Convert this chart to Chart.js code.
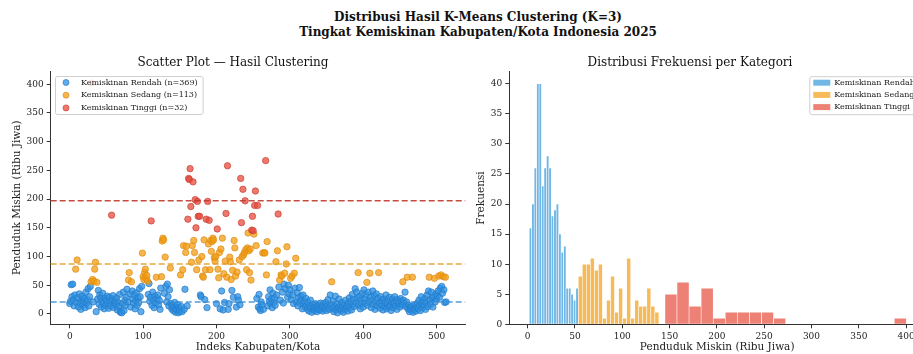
<!DOCTYPE html>
<html>
<head>
<meta charset="utf-8">
<script src="https://cdn.jsdelivr.net/npm/chart.js@4.4.0/dist/chart.umd.min.js"></script>
<style>
  html, body { margin:0; padding:0; background:#fff; overflow:hidden; width:913px; height:354px; position:relative; }
  #suptitle { position:absolute; left:0; top:10px; width:956px; text-align:center;
    font-family:"DejaVu Serif", serif; font-weight:bold; font-size:12px; line-height:15px; color:#111; }
  #kiri { position:absolute; left:0; top:0; }
  #kanan { position:absolute; left:455px; top:0; }
</style>
</head>
<body>
<div id="suptitle">Distribusi Hasil K-Means Clustering (K=3)<br>Tingkat Kemiskinan Kabupaten/Kota Indonesia 2025</div>
<canvas id="kiri" width="470" height="354"></canvas>
<canvas id="kanan" width="480" height="354"></canvas>
<script>
// data: penduduk miskin (ribu jiwa) per kabupaten/kota, urut indeks 0..513
const pendudukMiskin = [
  18,22,51,30,52,25,14,33,78,20,
  94,28,12,35,19,8,24,31,16,22,
  27,11,38,19,25,44,14,30,48,56,
  402,60,21,57,78,90,4,55,26,41,
  17,33,28,12,22,36,19,9,27,15,
  24,31,18,10,29,21,14,172,26,32,
  11,19,23,16,28,7,20,13,34,3,
  5,2,18,38,6,24,15,29,43,21,
  59,72,35,12,56,40,26,19,33,9,
  23,37,15,28,20,44,30,4,48,106,
  65,60,72,78,62,67,57,34,53,22,
  29,162,15,38,25,11,31,19,64,27,
  33,16,24,8,45,65,127,132,129,36,
  99,48,21,52,30,14,42,80,18,9,
  15,6,12,20,3,10,7,16,2,11,
  5,68,13,4,77,119,8,43,107,118,
  14,165,236,234,253,187,90,119,230,128,
  107,199,150,77,196,170,94,170,33,30,
  100,66,64,129,25,77,165,11,196,122,
  163,77,128,109,126,132,129,98,92,100,
  18,148,78,63,107,9,113,40,132,7,
  70,20,92,175,64,258,8,18,99,91,
  60,41,76,29,128,115,66,12,73,30,
  24,94,16,236,159,100,217,103,107,197,
  112,77,115,141,110,72,113,59,146,170,
  145,139,189,214,119,27,189,12,34,9,
  6,21,16,106,8,107,106,267,68,126,
  14,30,22,42,18,26,11,36,20,28,
  15,91,33,110,174,47,59,24,68,66,
  38,19,52,71,44,87,117,29,50,35,
  42,62,25,66,33,18,71,45,97,21,
  37,14,28,46,19,31,24,9,33,17,
  22,12,27,15,8,20,5,13,24,10,
  3,16,9,12,6,18,11,4,14,8,
  15,7,19,10,13,5,17,9,12,20,
  6,14,25,11,8,33,16,56,10,22,
  4,13,31,7,18,2,11,26,9,15,
  6,20,12,3,17,8,24,10,14,5,
  19,28,11,22,7,34,16,25,13,44,
  20,38,27,72,15,31,9,24,18,36,
  12,42,26,19,33,55,15,38,22,71,
  29,11,24,40,17,32,8,21,35,14,
  27,72,19,10,30,16,23,7,26,13,
  20,33,9,18,24,12,29,15,6,21,
  26,11,19,30,14,23,8,25,17,20,
  12,27,22,16,56,24,18,38,13,21,
  64,9,15,4,11,7,13,64,3,10,
  8,16,5,12,19,9,24,14,6,30,
  18,11,22,15,27,8,20,33,13,40,
  64,24,17,38,28,12,30,62,21,35,
  26,32,40,66,29,45,68,48,36,65,
  42,20,64,21
];

const kategori = ['Kemiskinan Rendah', 'Kemiskinan Sedang', 'Kemiskinan Tinggi'];
const centroid = [21, 87, 197];

// histogram (frekuensi per bin, 20 bin per kategori)
const frekRendah = [16,20,26,40,40,23,26,28,26,18,19,20,15,12,13,6,6,5,4,6];
const frekSedang = [8,10,10,11,9,10,1,4,8,2,6,1,11,1,4,3,3,6,3,2];
const frekTinggi = [5,7,3,6,1,2,2,2,2,1,0,0,0,0,0,0,0,0,0,1];
const binAwal = [1.7, 53.5, 145.1];
const binLebar = [2.59, 4.26, 12.76];

const tickXScatter = [0, 100, 200, 300, 400, 500];
const tickYScatter = [0, 50, 100, 150, 200, 250, 300, 350, 400];
const tickXHist = [0, 50, 100, 150, 200, 250, 300, 350, 400];
const tickYHist = [0, 5, 10, 15, 20, 25, 30, 35, 40];

// warna
const warnaIsi = ['rgba(45,145,225,0.75)', 'rgba(243,156,18,0.75)', 'rgba(231,76,60,0.75)'];
const warnaTepi = ['rgba(35,120,200,0.85)', 'rgba(220,140,20,0.85)', 'rgba(200,60,50,0.85)'];
const warnaGaris = ['rgba(52,140,210,0.85)', 'rgba(225,160,40,0.9)', 'rgba(192,57,43,0.9)'];
const warnaBar = ['rgba(52,152,219,0.7)', 'rgba(243,156,18,0.7)', 'rgba(231,76,60,0.7)'];

const FONT = '"DejaVu Serif", serif';
Chart.defaults.font.family = FONT;
Chart.defaults.color = '#222';

// assign tiap titik ke centroid terdekat
const kelompok = [[], [], []];
pendudukMiskin.forEach((v, i) => {
  let best = 0;
  centroid.forEach((c, k) => { if (Math.abs(v - c) < Math.abs(v - centroid[best])) best = k; });
  kelompok[best].push({x: i, y: v});
});

const garisCentroid = {
  id: 'garisCentroid',
  afterDatasetsDraw(chart) {
    const {ctx, chartArea: a, scales: {y}} = chart;
    ctx.save();
    ctx.lineWidth = 1.5;
    ctx.setLineDash([6, 3]);
    centroid.forEach((c, i) => {
      const py = y.getPixelForValue(c);
      ctx.strokeStyle = warnaGaris[i];
      ctx.beginPath();
      ctx.moveTo(a.left, py);
      ctx.lineTo(a.right, py);
      ctx.stroke();
    });
    ctx.restore();
  }
};

const kotakLegenda = {
  id: 'kotakLegenda',
  afterDatasetsDraw(chart, args, o) {
    const {ctx, chartArea: a} = chart;
    const ds = chart.data.datasets;
    ctx.save();
    ctx.font = '8px ' + FONT;
    const tw = Math.max(...ds.map(d => ctx.measureText(d.label).width));
    const w = o.textX + tw + 5;
    const x0 = o.align === 'right' ? a.right - o.margin - w : a.left + o.margin;
    const y0 = a.top + o.top;
    ctx.fillStyle = 'rgba(255,255,255,0.85)';
    ctx.strokeStyle = '#cfcfcf';
    ctx.lineWidth = 1;
    ctx.beginPath();
    ctx.roundRect(x0 + 0.5, y0 + 0.5, w, o.h, 2);
    ctx.fill();
    ctx.stroke();
    ds.forEach((d, i) => {
      const yy = y0 + o.first + i * o.row;
      if (o.marker === 'circle') {
        ctx.beginPath();
        ctx.arc(x0 + 11, yy, 3, 0, Math.PI * 2);
        ctx.fillStyle = d.backgroundColor;
        ctx.fill();
        ctx.strokeStyle = d.borderColor;
        ctx.lineWidth = 0.8;
        ctx.stroke();
      } else {
        ctx.fillStyle = d.backgroundColor;
        ctx.fillRect(x0 + 4, yy - 3, 17, 6);
      }
      ctx.fillStyle = '#222';
      ctx.textBaseline = 'middle';
      ctx.fillText(d.label, x0 + o.textX, yy);
    });
    ctx.restore();
  }
};

const sumbu = (ticks, min, max, judul, judulPad, extra) => Object.assign({
  type: 'linear', min, max, offset: false,
  afterBuildTicks: s => { s.ticks = ticks.map(v => ({value: v})); },
  ticks: {font: {size: 9}, color: '#222', padding: 3},
  grid: {display: true, drawOnChartArea: false, drawTicks: true, tickLength: 4, tickColor: '#333', offset: false},
  border: {display: true, color: '#333', width: 1},
  title: {display: true, text: judul, font: {size: 10.5}, color: '#222', padding: judulPad}
}, extra);

new Chart(document.getElementById('kiri'), {
  type: 'scatter',
  data: {
    datasets: kelompok.map((pts, k) => ({
      label: kategori[k] + ' (n=' + pts.length + ')',
      data: pts,
      backgroundColor: warnaIsi[k],
      borderColor: warnaTepi[k],
      borderWidth: 0.8,
      pointRadius: 3.2,
      order: 2 - k
    }))
  },
  options: {
    responsive: false,
    animation: false,
    layout: {padding: {left: 0, right: 4, top: 0, bottom: 0}},
    plugins: {
      legend: {display: false},
      tooltip: {enabled: false},
      title: {display: true, text: 'Scatter Plot \u2014 Hasil Clustering', color: '#111',
        font: {size: 12, weight: 'normal', lineHeight: 1}, padding: {top: 57, bottom: 2}},
      kotakLegenda: {align: 'left', margin: 4.3, top: 5, h: 38, first: 6.5, row: 12.7, textX: 26, marker: 'circle'}
    },
    scales: {
      x: sumbu(tickXScatter, -26, 539, 'Indeks Kabupaten/Kota', {top: 0, bottom: 0}, {
        afterFit: s => { s.height = 29.7; }
      }),
      y: sumbu(tickYScatter, -18, 423, 'Penduduk Miskin (Ribu Jiwa)', {top: 11, bottom: 0}, {
        afterFit: s => { s.width = 50.7; }
      })
    }
  },
  plugins: [garisCentroid, kotakLegenda]
});

const frek = [frekRendah, frekSedang, frekTinggi];
new Chart(document.getElementById('kanan'), {
  type: 'bar',
  data: {
    datasets: frek.map((f, k) => ({
      label: kategori[k],
      data: f.map((n, j) => ({x: binAwal[k] + binLebar[k] * (j + 0.5), y: n})),
      backgroundColor: warnaBar[k],
      borderColor: '#ffffff',
      borderWidth: 0.6,
      barThickness: 'flex',
      categoryPercentage: 1,
      barPercentage: 1
    }))
  },
  options: {
    responsive: false,
    animation: false,
    layout: {padding: {left: 0, right: 10, top: 0, bottom: 0}},
    plugins: {
      legend: {display: false},
      tooltip: {enabled: false},
      title: {display: true, text: 'Distribusi Frekuensi per Kategori', color: '#111',
        font: {size: 12, weight: 'normal', lineHeight: 1}, padding: {top: 57, bottom: 2.7}},
      kotakLegenda: {align: 'right', margin: 5, top: 4.5, h: 38, first: 6.5, row: 12.2, textX: 25, marker: 'rect'}
    },
    scales: {
      x: sumbu(tickXHist, -19.4, 420, 'Penduduk Miskin (Ribu Jiwa)', {top: 0, bottom: 0}, {
        stacked: true,
        afterFit: s => { s.height = 29.7; }
      }),
      y: sumbu(tickYHist, 0, 42, 'Frekuensi', {top: 20, bottom: 0}, {
        afterFit: s => { s.width = 54.3; }
      })
    }
  },
  plugins: [kotakLegenda]
});
</script>
</body>
</html>
